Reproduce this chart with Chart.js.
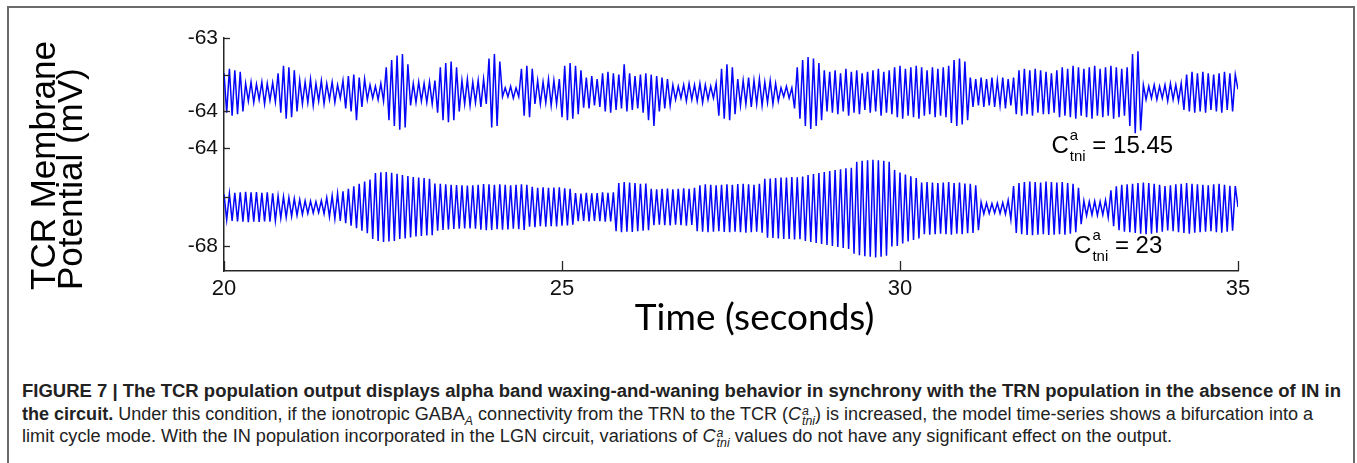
<!DOCTYPE html>
<html>
<head>
<meta charset="utf-8">
<script src="https://cdn.jsdelivr.net/npm/chart.js@4.4.1/dist/chart.umd.min.js"></script>
<style>
  html, body { margin: 0; padding: 0; background: #fff; }
  body { width: 1357px; height: 463px; position: relative; overflow: hidden; }
  #frame {
    position: absolute; left: 7px; top: 6px; width: 1348px; height: 520px;
    border: 2px solid #6a6a6a; box-sizing: border-box;
  }
  #tcrChart { position: absolute; left: 0; top: 0; }
  #caption {
    position: absolute; left: 22px; top: 380px;
    font-family: "Liberation Sans", Arial, Helvetica, sans-serif;
    font-size: 17.5px; color: #222;
  }
  #caption .line {
    white-space: nowrap; width: max-content; height: 22.5px; line-height: 22.5px;
    transform-origin: 0 50%;
  }
  #caption .ss {
    display: inline-block; vertical-align: -5px; font-size: 12px; line-height: 10px;
    font-style: italic; margin-left: 1px;
  }
  #caption .ss span { display: block; }
  #caption sub { font-size: 12px; }
</style>
</head>
<body>
<div id="frame"></div>
<canvas id="tcrChart" width="1357" height="360"></canvas>
<div id="caption">
  <div class="line" data-w="1319"><b>FIGURE 7 | The TCR population output displays alpha band waxing-and-waning behavior in synchrony with the TRN population in the absence of IN in</b></div>
  <div class="line" data-w="1291"><b>the circuit.</b> Under this condition, if the ionotropic GABA<sub><i>A</i></sub> connectivity from the TRN to the TCR (<i>C</i><span class="ss"><span>a</span><span>tni</span></span>) is increased, the model time-series shows a bifurcation into a</div>
  <div class="line" data-w="1150">limit cycle mode. With the IN population incorporated in the LGN circuit, variations of <i>C</i><span class="ss"><span>a</span><span>tni</span></span> values do not have any significant effect on the output.</div>
</div>
<script>
// sampling of the traces (s)
const startTime = 20;
const sampleStep = 0.04;

// x axis
const xTicks = [20, 25, 30, 35];

// upper axis (C_tni = 15.45)
const topTicks = [-63, -63.5, -64];
const topTickLabels = ['-63', '', '-64'];
// lower axis (C_tni = 23)
const bottomTicks = [-64, -66, -68];
const bottomTickLabels = ['-64', '', '-68'];

const couplingLabels = ['15.45', '23'];

// TCR membrane potential (mV), C_tni = 15.45
const upper20to25 = [
  -63.48,-64.02,-63.42,-64.06,-63.44,-64.04,-63.46,-64.00,
  -63.62,-63.86,-63.60,-63.88,-63.63,-63.84,-63.60,-63.90,-63.62,-63.85,-63.61,-63.87,
  -63.48,-64.02,-63.38,-64.10,-63.40,-64.08,-63.44,-64.00,
  -63.58,-63.90,-63.60,-63.88,-63.56,-63.92,-63.62,-63.86,-63.58,-63.90,-63.62,-63.84,
  -63.60,-63.88,-63.64,-63.82,-63.58,
  -63.96,-63.52,-64.00,-63.50,-64.12,-63.54,-63.94,-63.56,
  -63.84,-63.64,-63.82,-63.66,-63.84,-63.62,-63.86,
  -63.40,-64.12,-63.30,-64.20,-63.24,-64.25,-63.22,-64.22,-63.36,
  -63.92,-63.62,-63.88,-63.60,-63.86,-63.62,-63.88,-63.60,-63.90,-63.58,
  -64.02,-63.40,-64.12,-63.34,-64.15,-63.32,-64.12,-63.40,-64.00,
  -63.58,-63.90,-63.56,-63.92,-63.60,-63.88,-63.58,-63.94,-63.56,-63.90,
  -63.28,-64.22,-63.22,-64.20,-63.32,
  -63.80,-63.68,-63.80,-63.66,-63.82,-63.68,-63.80,
  -63.42,-64.06,-63.38,-64.08,-63.42,
  -63.90,-63.58,-63.90,-63.60,-63.88,-63.56,-63.92,-63.58,-63.90,-63.56
];
const upper25to30 = [
  -64.08,-63.38,-64.12,-63.34,-64.10,-63.38,-64.04,-63.44,
  -63.95,-63.54,-63.96,-63.52,-63.92,-63.56,-63.94,
  -63.48,-64.00,-63.46,-64.02,-63.48,
  -63.98,-63.50,-63.96,-63.36,-64.00,-63.48,-63.98,-63.52,-63.96,-63.50,
  -64.02,-63.48,-64.12,-63.50,-64.20,-63.52,-64.00,-63.54,-63.96,-63.56,-63.92,
  -63.64,-63.84,-63.66,-63.82,-63.64,-63.86,-63.62,-63.84,-63.64,-63.86,
  -63.62,-63.88,-63.64,-63.84,-63.66,-63.82,-63.62,
  -64.06,-63.42,-64.10,-63.36,-64.12,-63.40,-64.04,
  -63.56,-63.92,-63.58,-63.90,-63.54,-63.94,-63.58,-63.90,-63.56,-63.92,
  -63.60,-63.88,-63.58,-63.90,-63.62,-63.86,
  -63.68,-63.80,-63.66,-63.82,-63.68,
  -63.96,-63.40,-64.10,-63.30,-64.20,-63.26,-64.24,-63.28,-64.20,-63.34,-64.12,-63.44,-64.00,
  -63.46,-64.02,-63.44,-64.04,-63.48,-64.00,-63.42,-64.06,-63.46,-64.02,-63.44,-64.04,
  -63.48,-63.98,-63.46,-64.02,-63.44,-64.00,-63.42,-64.06,-63.46,-64.02,-63.44,-64.04,
  -63.40,-64.08
];
const upper30to35 = [
  -63.38,-64.10,-63.42,-64.06,-63.40,-64.08,-63.38,-64.10,-63.40,-64.06,
  -63.44,-64.04,-63.40,-64.08,-63.42,-64.06,-63.40,-64.08,-63.38,
  -64.16,-63.30,-64.20,-63.28,-64.18,-63.32,-64.12,
  -63.54,-63.94,-63.56,-63.92,-63.54,-63.94,-63.56,-63.92,-63.54,-63.94,
  -63.58,-63.92,-63.54,-63.96,-63.56,-63.92,-63.54,
  -64.04,-63.44,-64.06,-63.42,-64.04,-63.44,-64.06,-63.42,-64.02,-63.44,
  -64.04,-63.46,-64.04,-63.48,-64.02,-63.44,
  -64.08,-63.40,-64.06,-63.42,-64.08,-63.38,-64.10,-63.40,-64.06,-63.42,
  -64.08,-63.40,-64.10,-63.38,-64.06,-63.42,-64.08,-63.40,-64.06,-63.38,
  -64.10,-63.40,-64.08,-63.42,-64.06,-63.40,
  -64.20,-63.22,-64.30,-63.18,-64.26,
  -63.64,-63.84,-63.66,-63.82,-63.64,-63.84,-63.66,-63.82,-63.64,-63.86,
  -63.62,-63.84,-63.64,-63.86,-63.62,
  -63.98,-63.50,-64.00,-63.46,-64.02,-63.48,-64.00,-63.46,-64.02,-63.48,
  -63.98,-63.50,-64.00,-63.48,-64.02,-63.46,-63.98,-63.48,-64.00,-63.50,
  -63.70
];

// TCR membrane potential (mV), C_tni = 23
const lower20to25 = [
  -65.88,-66.92,-65.86,-66.96,-65.82,-66.98,-65.80,-67.00,-65.78,-67.02,
  -65.80,-67.00,-65.79,-67.01,-65.82,-66.98,-65.80,-67.00,-65.84,-66.96,
  -65.95,-66.85,-65.98,-66.82,-66.02,-66.78,-66.06,-66.74,-66.10,-66.70,
  -66.14,-66.66,-66.16,-66.64,-66.18,
  -66.62,-66.14,-66.68,
  -66.02,-66.80,-65.94,-66.88,-65.85,-66.96,-65.76,-67.06,-65.66,-67.16,
  -65.56,-67.26,-65.46,-67.36,-65.36,-67.46,-65.28,
  -67.70,-65.02,-67.78,-64.99,-67.82,-64.98,-67.80,-65.01,-67.78,-65.05,
  -67.70,-65.10,-67.68,-65.14,-67.64,-65.18,-67.60,-65.20,-67.58,-65.22,
  -67.56,-65.25,-67.55,
  -65.44,-67.36,-65.46,-67.33,-65.48,-67.31,-65.50,-67.29,-65.51,-67.28,
  -65.52,-67.27,-65.53,-67.27,-65.52,-67.28,-65.50,
  -67.32,-65.47,-67.34,-65.48,-67.33,-65.50,-67.30,-65.48,-67.32,-65.50,
  -67.31,-65.52,-67.28,-65.50,-67.30,-65.48,-67.33,-65.50,
  -67.20,-65.58,-67.22,-65.62,-67.18,-65.60,-67.20,-65.62,-67.18,-65.61,
  -67.19,-65.60
];
const lower25to30 = [
  -67.16,-65.64,-67.15,-65.66,-67.12,
  -65.83,-66.97,-65.85,-66.96,-65.82,-66.98,-65.84,-66.96,-65.83,-66.97,
  -65.80,-67.00,-65.82,-66.98,-65.80,
  -67.38,-65.42,-67.42,-65.38,-67.40,-65.40,-67.41,-65.42,-67.38,-65.45,
  -67.36,-65.44,-67.34,
  -65.66,-67.14,-65.68,-67.12,-65.66,-67.14,-65.65,-67.15,-65.68,-67.12,
  -65.66,-67.14,-65.64,-67.16,-65.66,-67.13,-65.62,
  -67.38,-65.52,-67.40,-65.48,-67.42,-65.50,-67.40,-65.52,-67.38,-65.50,
  -67.41,-65.48,-67.42,-65.50,-67.40,-65.47,-67.42,-65.45,-67.44,-65.48,
  -67.42,-65.50,-67.40,-65.46,-67.44,
  -65.25,-67.65,-65.24,-67.66,-65.22,-67.68,-65.20,-67.70,-65.20,-67.70,
  -65.18,-67.72,-65.19,-67.71,-65.16,
  -67.78,-65.10,-67.82,-65.06,-67.86,-65.02,-67.90,-64.98,-67.94,-64.94,
  -67.98,-64.90,-68.02,-64.86,-68.06,-64.82,-68.10,-64.80,
  -68.30,-64.56,-68.36,-64.52,-68.40,-64.50,-68.42,-64.48,-68.45,-64.50,
  -68.42,-64.52,-68.38,-64.56,
  -68.00,-64.90,-67.98
];
const lower30to35 = [
  -65.00,-67.88,-65.08,-67.80,-65.15,-67.74,-65.22,-67.68,
  -65.40,-67.50,-65.38,-67.52,-65.40,-67.50,-65.42,-67.48,-65.40,-67.50,
  -65.38,-67.52,-65.42,-67.48,-65.40,-67.50,-65.44,-67.46,-65.45,-67.45,
  -65.52,-67.34,
  -66.20,-66.68,-66.24,-66.66,-66.26,-66.64,-66.24,-66.66,-66.22,-66.68,
  -66.12,-66.90,
  -65.55,-67.45,-65.42,-67.50,-65.38,-67.54,-65.36,-67.55,-65.38,-67.52,
  -65.40,-67.50,-65.36,-67.54,-65.38,-67.52,-65.40,-67.50,-65.38,-67.52,
  -65.42,-67.48,-65.45,-67.42,-65.62,
  -67.10,-66.15,-66.75,-66.18,-66.72,-66.16,-66.74,-66.18,-66.72,-66.12,
  -66.82,
  -65.72,-67.18,-65.56,-67.34,-65.50,-67.40,-65.48,-67.42,-65.45,-67.45,
  -65.42,-67.48,-65.40,-67.50,-65.42,-67.48,-65.45,-67.44,-65.50,-67.40,
  -65.55,-67.35,-65.52,-67.38,-65.48,-67.42,-65.45,-67.45,-65.42,-67.48,
  -65.45,-67.44,-65.48,-67.42,-65.50,-67.40,-65.52,-67.38,-65.48,-67.42,
  -65.46,-67.44,-65.50,-67.40,-65.54,-67.36,-65.55,-66.40
];

const traceColor = 'rgb(6, 6, 250)';
const axisColor = '#262626';
const plotTop = 38, plotBottom = 271, plotLeft = 224, plotRight = 1238;
const canvasW = 1357, canvasH = 360;

function toPoints(values) {
  return values.map((v, i) => ({ x: startTime + i * sampleStep, y: v }));
}
const upperTrace = toPoints(upper20to25.concat(upper25to30, upper30to35));
const lowerTrace = toPoints(lower20to25.concat(lower25to30, lower30to35));

Chart.defaults.font.family = '"Liberation Sans", Arial, Helvetica, sans-serif';
Chart.defaults.color = '#111';

// draws things matlab has that chart.js does not: inward ticks, the two-line y title,
// the x title and the C_tni labels
const figureDecor = {
  id: 'figureDecor',
  afterDraw(chart) {
    const { ctx, chartArea } = chart;
    const { x, yTop, yBottom } = chart.scales;
    ctx.save();
    ctx.strokeStyle = axisColor;
    ctx.lineWidth = 1.3;
    [yTop, yBottom].forEach(s => {
      s.ticks.forEach(t => {
        const py = Math.round(s.getPixelForValue(t.value)) + 0.5;
        ctx.beginPath();
        ctx.moveTo(chartArea.left, py);
        ctx.lineTo(chartArea.left + 6, py);
        ctx.stroke();
      });
    });
    x.ticks.forEach(t => {
      const px = Math.round(x.getPixelForValue(t.value)) + 0.5;
      ctx.beginPath();
      ctx.moveTo(px, chartArea.bottom);
      ctx.lineTo(px, chartArea.bottom - 10);
      ctx.stroke();
    });

    // y title, rotated
    ctx.fillStyle = '#000';
    ctx.font = '35px "Liberation Sans", Arial, sans-serif';
    ctx.textAlign = 'left';
    ctx.textBaseline = 'alphabetic';
    ctx.save();
    ctx.translate(chartArea.left - 169, chartArea.bottom + 19);
    ctx.rotate(-Math.PI / 2);
    ctx.fillText('TCR Membrane', 0, 0);
    ctx.fillText('Potential (mV)', 0, 27);
    ctx.restore();

    // x title
    ctx.font = '37px Lato, "Open Sans", sans-serif';
    ctx.textAlign = 'center';
    ctx.fillText('Time (seconds)', x.getPixelForValue(27.85), chartArea.bottom + 59);

    // C^a_tni labels, right-aligned at a time / potential anchor
    const labelAnchors = [
      { t: 34.04, v: -64.2 },
      { t: 33.88, v: -68.27 }
    ];
    couplingLabels.forEach((val, k) => {
      const a = labelAnchors[k];
      const right = x.getPixelForValue(a.t);
      const base = yBottom.getPixelForValue(a.v);
      const big = '24px "Liberation Sans", Arial, sans-serif';
      const small = '15px "Liberation Sans", Arial, sans-serif';
      ctx.textAlign = 'left';
      ctx.font = big;
      const wC = ctx.measureText('C').width;
      const wRest = ctx.measureText(' = ' + val).width;
      ctx.font = small;
      const wSub = ctx.measureText('tni').width;
      let px = right - (wC + wSub + 1 + wRest);
      ctx.font = big;
      ctx.fillText('C', px, base);
      px += wC + 1;
      ctx.font = small;
      ctx.fillText('a', px, base - 13);
      ctx.fillText('tni', px, base + 8);
      px += wSub;
      ctx.font = big;
      ctx.fillText(' = ' + val, px, base);
    });
    ctx.restore();
  }
};

const yCommon = {
  type: 'linear',
  position: 'left',
  stack: 'tcr',
  grid: { display: false, drawTicks: false },
  border: { display: true, color: axisColor, width: 1.5 },
  afterFit: s => { s.width = plotLeft; }
};

new Chart(document.getElementById('tcrChart').getContext('2d'), {
  type: 'line',
  data: {
    datasets: [
      {
        label: 'C_tni = 15.45', data: upperTrace, yAxisID: 'yTop',
        borderColor: traceColor, borderWidth: 1.5, pointRadius: 0, tension: 0, fill: false
      },
      {
        label: 'C_tni = 23', data: lowerTrace, yAxisID: 'yBottom',
        borderColor: traceColor, borderWidth: 1.5, pointRadius: 0, tension: 0, fill: false
      }
    ]
  },
  options: {
    responsive: false,
    animation: false,
    layout: { padding: { top: plotTop, right: canvasW - plotRight, bottom: 0, left: 0 } },
    plugins: { legend: { display: false }, tooltip: { enabled: false } },
    scales: {
      x: {
        type: 'linear', min: 20, max: 35,
        afterBuildTicks: s => { s.ticks = xTicks.map(v => ({ value: v })); },
        grid: { display: false, drawTicks: false },
        border: { display: true, color: axisColor, width: 1.5 },
        ticks: { font: { size: 22 }, color: '#111', padding: 5, autoSkip: false, maxRotation: 0,
                 callback: v => String(v) },
        afterFit: s => { s.height = canvasH - plotBottom; }
      },
      yTop: Object.assign({}, yCommon, {
        min: -64.5, max: -63, stackWeight: 110, weight: 2,
        afterBuildTicks: s => { s.ticks = topTicks.map(v => ({ value: v })); },
        ticks: { font: { size: 21 }, color: '#111', padding: 6, autoSkip: false,
                 callback: (v, i) => topTickLabels[i] }
      }),
      yBottom: Object.assign({}, yCommon, {
        min: -69, max: -64, stackWeight: 123, weight: 1,
        afterBuildTicks: s => { s.ticks = bottomTicks.map(v => ({ value: v })); },
        ticks: { font: { size: 21 }, color: '#111', padding: 6, autoSkip: false,
                 callback: (v, i) => bottomTickLabels[i] }
      })
    }
  },
  plugins: [figureDecor]
});

// stretch each caption line to the width it has in the figure
document.querySelectorAll('#caption .line').forEach(el => {
  const natural = el.getBoundingClientRect().width;
  const target = Number(el.dataset.w);
  el.style.transform = 'scaleX(' + (target / natural).toFixed(4) + ')';
});
</script>
</body>
</html>
